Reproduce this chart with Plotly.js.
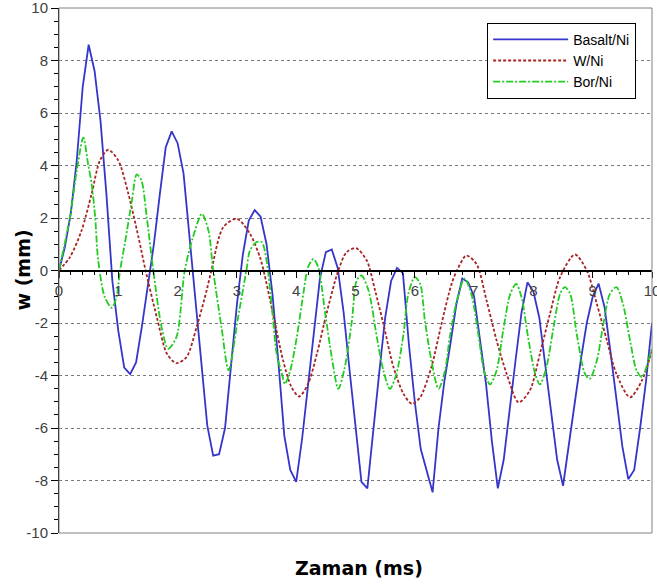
<!DOCTYPE html>
<html>
<head>
<meta charset="utf-8">
<script src="https://cdn.plot.ly/plotly-3.0.1.min.js"></script>
<style>html,body{margin:0;padding:0;background:#fff;}#chart{width:657px;height:586px;}</style>
</head>
<body>
<div id="chart"></div>
<script>
// Basalt/Ni (solid blue)
const basaltX = [0,0.1,0.2,0.3,0.4,0.5,0.6,0.7,0.8,0.9,1.0,1.1,1.2,1.3,1.4,1.5,1.6,1.7,1.8,1.9,2.0,2.1,2.2,2.3,2.4,2.5,2.6,2.7,2.8,2.9,3.0,3.1,3.2,3.3,3.4,3.5,3.6,3.7,3.8,3.9,4.0,4.1,4.2,4.3,4.4,4.5,4.6,4.7,4.8,4.9,5.0,5.1,5.2,5.3,5.4,5.5,5.6,5.7,5.8,5.9,6.0,6.1,6.2,6.3,6.4,6.5,6.6,6.7,6.8,6.9,7.0,7.1,7.2,7.3,7.4,7.5,7.6,7.7,7.8,7.9,8.0,8.1,8.2,8.3,8.4,8.5,8.6,8.7,8.8,8.9,9.0,9.1,9.2,9.3,9.4,9.5,9.6,9.7,9.8,9.9,10.0];
const basaltY = [0,0.9,2.2,4.2,7.0,8.6,7.6,5.7,2.9,-0.4,-2.3,-3.7,-3.95,-3.5,-2.1,-0.5,1.0,2.9,4.7,5.3,4.85,3.7,1.3,-1.3,-3.7,-5.9,-7.05,-7.0,-6.0,-3.5,-1.3,0.6,1.9,2.3,2.05,1.0,-0.9,-3.5,-6.3,-7.6,-8.05,-6.4,-4.4,-2.2,-0.3,0.7,0.8,0.1,-1.6,-3.8,-6.0,-8.05,-8.3,-6.0,-3.9,-1.8,-0.4,0.1,-0.1,-2.8,-5.0,-6.8,-7.6,-8.45,-6.0,-4.2,-2.8,-1.3,-0.3,-0.45,-1.0,-2.6,-4.3,-6.5,-8.3,-7.2,-5.2,-3.4,-1.6,-0.45,-0.8,-1.8,-3.6,-5.4,-7.2,-8.2,-6.6,-4.9,-3.4,-2.0,-1.0,-0.5,-1.4,-3.1,-4.9,-6.7,-7.95,-7.6,-6.0,-4.2,-2.0];

// W/Ni (dotted dark red)
const wniX = [0,0.185,0.38,0.55,0.69,0.83,1.0,1.17,1.34,1.46,1.65,1.82,1.98,2.15,2.32,2.49,2.57,2.77,3.0,3.22,3.39,3.45,3.61,3.78,3.92,4.05,4.2,4.35,4.51,4.71,4.85,5.01,5.19,5.33,5.47,5.64,5.81,5.95,6.09,6.28,6.45,6.62,6.71,6.87,7.04,7.21,7.38,7.55,7.75,7.94,8.11,8.28,8.45,8.7,8.9,9.07,9.24,9.4,9.63,9.83,10.0];
const wniY = [0,0.51,1.52,2.92,4.19,4.6,4.19,2.92,1.27,0,-1.78,-3.17,-3.53,-3.3,-2.16,-0.76,0,1.65,1.97,1.4,0.5,0,-1.65,-3.43,-4.44,-4.8,-4.32,-3.17,-1.65,0,0.7,0.85,0.38,-0.76,-2.03,-3.68,-4.7,-5.08,-4.83,-3.68,-2.03,-0.51,0,0.57,0.25,-1.14,-2.67,-3.94,-5.02,-4.57,-3.17,-1.65,-0.25,0.61,0,-1.27,-2.67,-3.94,-4.83,-4.19,-3.05];

// Bor/Ni (dash-dot green)
const borX = [0,0.185,0.3,0.41,0.49,0.55,0.61,0.66,0.77,0.89,0.97,1.03,1.11,1.23,1.31,1.39,1.48,1.59,1.73,1.84,1.98,2.12,2.26,2.41,2.52,2.6,2.74,2.86,3.02,3.16,3.22,3.33,3.42,3.5,3.59,3.67,3.76,3.81,3.9,4.01,4.12,4.2,4.29,4.37,4.49,4.6,4.71,4.82,4.94,5.02,5.1,5.22,5.36,5.47,5.58,5.69,5.81,5.89,6.0,6.09,6.17,6.28,6.4,6.51,6.59,6.71,6.84,6.96,7.07,7.18,7.27,7.38,7.49,7.61,7.71,7.8,7.91,8.03,8.11,8.22,8.34,8.45,8.53,8.62,8.73,8.87,8.95,9.07,9.18,9.29,9.4,9.51,9.63,9.74,9.83,9.94,10.0];
const borY = [0,2.03,3.81,5.06,4.06,3.3,2.03,0.4,-1.0,-1.42,-1.0,0,1.02,2.67,3.66,3.43,2.03,0,-2.16,-2.98,-2.54,0,1.27,2.16,1.52,0,-2.16,-3.8,-1.78,0,0.76,1.08,1.08,0.38,-1.4,-3.17,-3.94,-4.32,-3.81,-2.54,-0.89,0.13,0.44,0.13,-1.65,-3.3,-4.51,-3.68,-1.9,-0.38,-0.19,-0.76,-2.54,-3.81,-4.51,-3.94,-2.41,-0.89,-0.25,-0.51,-1.9,-3.43,-4.51,-3.81,-2.54,-1.14,-0.3,-0.95,-2.41,-3.94,-4.34,-3.81,-2.29,-0.89,-0.51,-1.02,-2.54,-3.94,-4.34,-3.68,-2.16,-0.89,-0.63,-0.89,-2.41,-3.94,-4.13,-3.43,-2.03,-0.89,-0.63,-1.27,-2.67,-3.81,-4.06,-3.43,-2.92];

const seriesNames = ['Basalt/Ni', 'W/Ni', 'Bor/Ni'];
const xTickVals = [0,1,2,3,4,5,6,7,8,9,10];
const yTickVals = [-10,-8,-6,-4,-2,0,2,4,6,8,10];
const xTitle = 'Zaman (ms)';
const yTitle = 'w (mm)';

const tickFont = {family: 'Liberation Sans, Arial, sans-serif', size: 15, color: '#404040'};
const titleFont = {family: 'DejaVu Sans, Verdana, sans-serif', size: 19, color: '#000000', weight: 'bold'};

const traces = [
  {x: basaltX, y: basaltY, name: seriesNames[0], type: 'scatter', mode: 'lines',
   line: {color: '#3535cc', width: 1.8}},
  {x: wniX, y: wniY, name: seriesNames[1], type: 'scatter', mode: 'lines',
   line: {color: '#a82424', width: 1.8, dash: '3px,2px', shape: 'spline', smoothing: 0.8}},
  {x: borX, y: borY, name: seriesNames[2], type: 'scatter', mode: 'lines',
   line: {color: '#22cc22', width: 1.8, dash: '7px,2px,2px,2px', shape: 'spline', smoothing: 0.8}}
];

const layout = {
  width: 657, height: 586,
  margin: {l: 59, r: 5, t: 8, b: 53},
  paper_bgcolor: '#ffffff', plot_bgcolor: '#ffffff',
  showlegend: true,
  xaxis: {
    range: [0, 10], anchor: 'free', position: 0.5,
    tickmode: 'array', tickvals: xTickVals, ticktext: xTickVals.map(String),
    ticks: 'outside', ticklen: 6, tickwidth: 1, tickcolor: '#000000',
    showline: true, linecolor: '#000000', linewidth: 2.5,
    showgrid: false, zeroline: false, tickfont: tickFont, fixedrange: true,
    ticklabeloverflow: 'allow',
    minor: {dtick: 0.2, ticks: 'outside', ticklen: 3, tickcolor: '#000000', showgrid: false}
  },
  yaxis: {
    range: [-10, 10],
    tickmode: 'array', tickvals: yTickVals, ticktext: yTickVals.map(v => v < 0 ? '-' + Math.abs(v) : String(v)),
    ticks: 'outside', ticklen: 7, tickwidth: 1, tickcolor: '#000000',
    showline: true, linecolor: '#000000', linewidth: 1,
    showgrid: true, gridcolor: '#7a7a7a', griddash: 'dot', gridwidth: 1,
    zeroline: false, tickfont: tickFont, fixedrange: true,
    ticklabeloverflow: 'allow',
    minor: {tickmode: 'linear', tick0: 0, dtick: 0.5, ticks: 'outside', ticklen: 4, tickcolor: '#000000', showgrid: false}
  },
  legend: {
    x: 0.722, y: 0.972, xanchor: 'left', yanchor: 'top',
    bgcolor: '#ffffff', bordercolor: '#000000', borderwidth: 1,
    font: {family: 'Liberation Sans, Arial, sans-serif', size: 14, color: '#000000'},
    itemwidth: 75
  },
  annotations: [
    {text: xTitle, xref: 'paper', yref: 'paper', x: 0.5, y: 0, xshift: 3, yshift: -35,
     xanchor: 'center', yanchor: 'middle', showarrow: false, font: titleFont},
    {text: yTitle, xref: 'paper', yref: 'paper', x: 0, y: 0.5, xshift: -37,
     xanchor: 'center', yanchor: 'middle', textangle: -90, showarrow: false, font: titleFont}
  ],
  shapes: [
    {type: 'rect', xref: 'paper', yref: 'paper', x0: 0, x1: 1, y0: 0, y1: 1,
     line: {color: '#808080', width: 1}, layer: 'above'}
  ]
};

Plotly.newPlot('chart', traces, layout, {staticPlot: true, displayModeBar: false});
</script>
</body>
</html>
